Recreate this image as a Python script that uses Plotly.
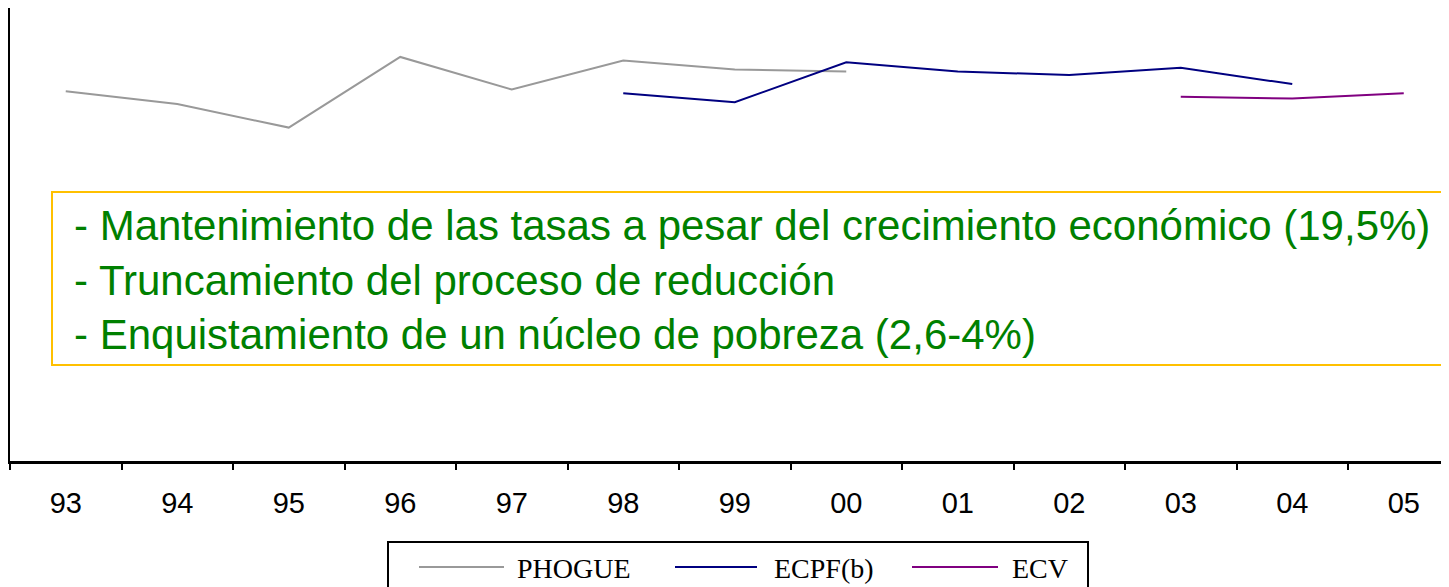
import plotly.graph_objects as go

years = ['93', '94', '95', '96', '97', '98', '99', '00', '01', '02', '03', '04', '05']

phogue_years = ['93', '94', '95', '96', '97', '98', '99', '00']
phogue = [20.4, 19.7, 18.4, 22.3, 20.5, 22.1, 21.6, 21.5]

ecpf_years = ['98', '99', '00', '01', '02', '03', '04']
ecpf = [20.3, 19.8, 22.0, 21.5, 21.3, 21.7, 20.8]

ecv_years = ['03', '04', '05']
ecv = [20.1, 20.0, 20.3]

series = [('PHOGUE', phogue_years, phogue, '#999999'),
          ('ECPF(b)', ecpf_years, ecpf, '#000080'),
          ('ECV', ecv_years, ecv, '#800080')]

notes = ['- Mantenimiento de las tasas a pesar del crecimiento económico (19,5%)',
         '- Truncamiento del proceso de reducción',
         '- Enquistamiento de un núcleo de pobreza (2,6-4%)']

# page has an 8px body margin, so the figure is sized to the visible window
OFF = 8
W, H = 1449 - OFF, 587 - OFF
ML, MT, MB = 10 - OFF, 8 - OFF, 587 - 461
PW, PH = W - ML, H - MT - MB


def px(x):
    # screen pixel -> paper x
    return (x - OFF - ML) / PW


def py(y):
    # screen pixel -> paper y
    return (H - MB - (y - OFF)) / PH


fig = go.Figure()
for name, xs, ys, col in series:
    fig.add_trace(go.Scatter(x=xs, y=ys, mode='lines', name=name,
                             line=dict(color=col, width=2), showlegend=False))

# note box
fig.add_shape(type='rect', xref='paper', yref='paper',
              x0=px(52), x1=px(1470), y0=py(365), y1=py(192),
              line=dict(color='#FFC000', width=2), fillcolor='rgba(0,0,0,0)')
fig.add_annotation(xref='paper', yref='paper', x=px(72), y=py(280),
                   xanchor='left', yanchor='middle', align='left', showarrow=False,
                   text='<br>'.join(notes),
                   font=dict(family='Liberation Sans, Arial', size=42, color='#008000'))

# hand-made legend box
fig.add_shape(type='rect', xref='paper', yref='paper',
              x0=px(388), x1=px(1088), y0=py(620), y1=py(542),
              line=dict(color='black', width=2))
leg_pos = [(419, 504, 515), (675, 757, 772), (912, 998, 1010)]
for (name, xs, ys, col), (l0, l1, tx) in zip(series, leg_pos):
    fig.add_shape(type='line', xref='paper', yref='paper',
                  x0=px(l0), x1=px(l1), y0=py(567), y1=py(567),
                  line=dict(color=col, width=2))
    fig.add_annotation(xref='paper', yref='paper', x=px(tx), y=py(568),
                       xanchor='left', yanchor='middle', showarrow=False, text=name,
                       font=dict(family='Liberation Serif, Times New Roman', size=28, color='black'))

fig.update_layout(
    width=W, height=H,
    margin=dict(l=ML, r=0, t=MT, b=MB),
    plot_bgcolor='white', paper_bgcolor='white',
    showlegend=False,
)
fig.update_xaxes(type='category', categoryorder='array', categoryarray=years,
                 range=[-0.5, -0.5 + PW / 111.5],
                 showline=True, linecolor='black', linewidth=3,
                 ticks='outside', tickson='boundaries', ticklen=6, tickwidth=2, tickcolor='black',
                 showgrid=False, zeroline=False, ticklabelstandoff=14,
                 tickfont=dict(family='Liberation Sans, Arial', size=29, color='black'))
fig.update_yaxes(range=[0, 25], showline=True, linecolor='black', linewidth=3,
                 showticklabels=False, ticks='', showgrid=False, zeroline=False)

fig.write_html('out.html')
